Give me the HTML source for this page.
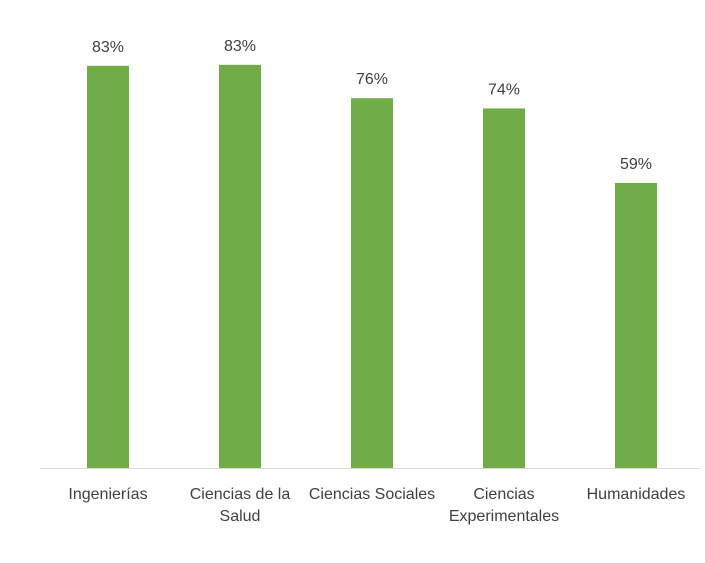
<!DOCTYPE html>
<html><head><meta charset="utf-8"><style>
body{margin:0;background:#fff;}
svg text{font-family:"Liberation Sans",sans-serif;fill:#404040;}
</style></head><body>
<svg width="705" height="558">
<line x1="40" y1="468.5" x2="700" y2="468.5" stroke="#d9d9d9" stroke-width="1"/>
<g id="bars"></g>
</svg>
<script>
const categories=[["Ingenierías"],["Ciencias de la","Salud"],["Ciencias Sociales"],["Ciencias","Experimentales"],["Humanidades"]];
const values=[83.1,83.3,76.4,74.3,58.9];
const labels=["83%","83%","76%","74%","59%"];
const base=468, pxPer=4.84, left=42, band=132, bw=42;
const x=i=>left+band*i+band/2;
const y=v=>base-v*pxPer;
const g=document.getElementById('bars');
const ns='http://www.w3.org/2000/svg';
values.forEach((v,i)=>{
 const r=document.createElementNS(ns,'rect');
 
 
 r.setAttribute('x',x(i)-bw/2);r.setAttribute('y',y(v));
 r.setAttribute('width',bw);r.setAttribute('height',base-y(v));
 r.setAttribute('fill','#70ad47');g.appendChild(r);
 const t=document.createElementNS(ns,'text');
 
 
 t.setAttribute('x',x(i));t.setAttribute('y',y(v)-14);
 t.setAttribute('text-anchor','middle');t.setAttribute('font-size','16');
 t.textContent=labels[i];g.appendChild(t);
 categories[i].forEach((line,j)=>{
  const c=document.createElementNS(ns,'text');
  
  
  c.setAttribute('x',x(i));c.setAttribute('y',499+j*22);
  c.setAttribute('text-anchor','middle');c.setAttribute('font-size','16');
  c.textContent=line;g.appendChild(c);
 });
});
</script>
</body></html>
